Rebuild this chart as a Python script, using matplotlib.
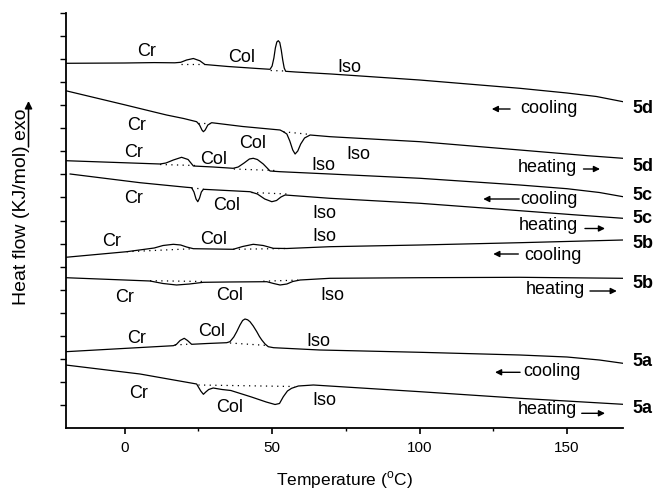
import numpy as np
import matplotlib
matplotlib.use('Agg')
import matplotlib.pyplot as plt

plt.rcParams['font.family'] = ['Liberation Sans', 'DejaVu Sans']

# ---------------- data (temperature in degC, heat flow in arbitrary units) ----------------
t_5d_cool = [-20, 0, 10, 17, 19, 21, 23.3, 25.5, 27.2, 35, 45, 49.3, 50.0, 50.6, 51.1, 51.6, 52.1,
             52.6, 53.1, 53.6, 54.1, 54.6, 58, 64, 70, 100, 134, 150, 160, 169]
hf_5d_cool = [364.7, 365, 365.4, 365.2, 365.7, 368, 369.5, 367.2, 363.5, 361.5, 359.5, 358.7, 362,
              370, 380, 386, 387.3, 385.5, 378, 368, 360, 356.7, 356, 355, 354, 348, 339.7, 335,
              331.5, 326.3]

t_5d_heat = [-20, 0, 10, 14.2, 20, 24.4, 25.4, 26.2, 26.7, 27.3, 28.2, 29.5, 40, 52.7, 53.8, 55.0,
             56.0, 57.0, 57.8, 58.7, 59.7, 61.0, 62.9, 69.7, 100.2, 134, 157, 169]
hf_5d_heat = [337.3, 323.2, 316, 313, 309.5, 306.3, 303, 298, 296.3, 298, 303, 305.3, 301.5, 298,
              296.3, 294, 287, 278, 274, 277, 284, 290, 293, 291.3, 286.3, 278, 272.3, 269.7]

t_5c_cool = [-20, 12, 14, 16.5, 19.3, 21.5, 23.3, 30, 36.8, 38.5, 40.5, 42.3, 43.6, 45, 47, 49.3,
             52.7, 69.6, 100.2, 134, 150, 161, 169]
hf_5c_cool = [267.3, 264, 265, 268, 270.7, 268.5, 262, 261, 259.7, 261, 265, 269, 269.7, 268.5, 264,
              257, 256.3, 254, 249.7, 243, 239.3, 235.5, 231.3]

t_5c_heat = [-18.5, 5.2, 21, 22.7, 23.5, 24.2, 24.8, 25.4, 26, 26.7, 42.5, 45, 47.5, 49.9, 51.5, 53,
             54.4, 69.6, 100.2, 134, 152, 169]
hf_5c_heat = [254, 245.3, 240.7, 240.3, 236, 229, 226.3, 230, 236, 238.7, 236.3, 234, 229, 226.3,
              227.5, 231, 233, 229.7, 224.7, 217.3, 213.3, 209.7]

t_5b_cool = [-20, 0.7, 5, 10, 13, 16.5, 19, 21, 23.3, 30, 36.8, 40, 43.6, 47, 50.4, 55, 69.6, 100.2,
             134, 169]
hf_5b_cool = [170.7, 176.3, 178, 180, 182.5, 183.7, 183, 181, 179.3, 179, 178.7, 181.5, 183.7, 182.5,
              179.7, 179.5, 181.3, 183, 185.3, 188]

t_5b_heat = [-20, 8.6, 13, 17.6, 22, 26.7, 35, 48.2, 50.5, 52.7, 55, 57, 59.5, 69.6, 100.2, 134, 169]
hf_5b_heat = [150.3, 147, 144.5, 143, 144, 145.7, 146, 146.3, 144.5, 143, 144, 146.5, 148, 149.7,
              150.3, 150.7, 149.7]

t_5a_cool = [-20, 0, 16.5, 17.5, 18.8, 20.2, 21.3, 22.7, 28, 34.6, 35.7, 37, 38, 39.1, 40, 40.8, 41.7,
             42.5, 43.6, 44.8, 45.7, 46.5, 47.6, 48.7, 50.5, 66.2, 100.2, 134, 150, 161, 169]
hf_5a_cool = [76.3, 79.6, 82.3, 83.5, 87.5, 89.7, 87.5, 83.7, 84.5, 85.3, 86.3, 91, 96.3, 103, 107.5,
              109, 108.2, 106.3, 102, 96.3, 91.5, 88, 84, 81.3, 80.3, 78, 75.7, 73, 71, 68, 64.7]

t_5a_heat = [-20, 5.2, 16.5, 24.4, 25.0, 25.8, 26.7, 27.5, 28.5, 30, 33, 36, 43, 48, 51, 52.5, 53.8,
             55.2, 56.6, 58.9, 64, 76.4, 100.2, 134, 169]
hf_5a_heat = [63, 54, 48.1, 44, 41, 37, 33.7, 36, 38.5, 40, 38.5, 37.5, 31, 26, 23.5, 24.5, 31.3, 37,
              39.7, 42, 43, 40.7, 36.3, 29.7, 23.7]

# dotted baselines: (t_start, t_end, hf_start, hf_end)
baselines = [
    (19, 27, 364.5, 364.5), (49.5, 54.5, 357.5, 357),
    (24.8, 28.8, 305.5, 305.5), (53.8, 63, 296.3, 293.5),
    (12, 24, 263.5, 262.5), (37, 51, 259, 257.5),
    (22.7, 26.7, 240, 239), (43, 55, 235.5, 234),
    (0.7, 23.3, 176.3, 179.3), (36.8, 55, 178.7, 179.5),
    (8.6, 26.7, 147.3, 146.5), (47, 60, 146.8, 148),
    (17, 22.7, 83, 84), (35.7, 48.5, 85, 82.5),
    (25, 57.5, 43, 41.5),
]

phase_labels = [
    ('Cr', 7.5, 376), ('Col', 39.7, 370), ('Iso', 76.2, 361),
    ('Cr', 3.9, 302), ('Col', 43.4, 284), ('Iso', 79.2, 273.5),
    ('Cr', 2.9, 275.5), ('Col', 30.1, 269), ('Iso', 67.3, 262),
    ('Cr', 2.9, 229.5), ('Col', 34.6, 223), ('Iso', 67.6, 214.5),
    ('Cr', -4.4, 186), ('Col', 30.1, 188), ('Iso', 67.6, 191),
    ('Cr', 0.1, 131), ('Col', 35.7, 132), ('Iso', 70.3, 133),
    ('Cr', 4.1, 89.5), ('Col', 29.5, 96), ('Iso', 65.6, 86.5),
    ('Cr', 4.6, 34.5), ('Col', 35.5, 20.5), ('Iso', 67.8, 27.5),
]

# mode text (text, x, y), arrow (tail, head, y)
mode_labels = [
    ('cooling', 144.0, 319.7, 130.7, 124.5, 319),
    ('heating', 143.3, 260.7, 155.6, 161.2, 259),
    ('cooling', 144.0, 229, 133.8, 121.6, 229),
    ('heating', 143.7, 203, 156.1, 162.9, 199.5),
    ('cooling', 145.4, 173, 133.5, 125.0, 174),
    ('heating', 146.0, 138, 157.8, 166.9, 137),
    ('cooling', 144.8, 56.3, 134.1, 125.6, 55.7),
    ('heating', 143.2, 18, 155.0, 162.9, 14.7),
]

sample_names = ['5d', '5d', '5c', '5c', '5b', '5b', '5a', '5a']
sample_y = [319.7, 261.3, 233, 209.7, 184.7, 144.7, 66.3, 19.7]

curves = [(t_5d_cool, hf_5d_cool), (t_5d_heat, hf_5d_heat), (t_5c_cool, hf_5c_cool),
          (t_5c_heat, hf_5c_heat), (t_5b_cool, hf_5b_cool), (t_5b_heat, hf_5b_heat),
          (t_5a_cool, hf_5a_cool), (t_5a_heat, hf_5a_heat)]

# ---------------- figure ----------------
W, H = 653, 491
fig = plt.figure(figsize=(W / 100, H / 100), dpi=100)
ax = fig.add_axes([66 / W, 1 - 428 / H, (623 - 66) / W, (428 - 13) / H])
ax.set_xlim(-19.9, 169)
ax.set_ylim(0, 415)

for t, hf in curves:
    ax.plot(t, hf, color='black', lw=0.9, solid_joinstyle='round')

for t0, t1, h0, h1 in baselines:
    ax.plot([t0, t1], [h0, h1], color='black', lw=0.9, linestyle=(0, (1, 3.5)))

for s, x, y in phase_labels:
    ax.text(x, y, s, ha='center', va='center', fontsize=13)

for s, x, y, tail, head, ya in mode_labels:
    ax.text(x, y, s, ha='center', va='center', fontsize=13, clip_on=False)
    ax.annotate('', xy=(head, ya), xytext=(tail, ya),
                arrowprops=dict(arrowstyle='-|>', color='black', lw=1.0,
                                mutation_scale=9, shrinkA=0, shrinkB=0),
                annotation_clip=False)

for s, y in zip(sample_names, sample_y):
    ax.text(172.1, y, s, ha='left', va='center', fontsize=13, fontweight='bold',
            clip_on=False)

# axes styling
for sp in ['top', 'right']:
    ax.spines[sp].set_visible(False)
for sp in ['left', 'bottom']:
    ax.spines[sp].set_linewidth(1.3)

ax.set_xticks([0, 50, 100, 150])
ax.set_xticks([25, 75, 125], minor=True)
ax.set_yticks(np.arange(1, 19) * 415 / 18)
ax.set_yticklabels([])
ax.tick_params(axis='x', which='major', length=4.5, width=1.2, labelsize=11, pad=5)
ax.tick_params(axis='x', which='minor', length=2.3, width=1.0)
ax.tick_params(axis='y', which='major', length=4.3, width=1.0)

ax.set_xlabel('Temperature ($^{\\mathregular{o}}$C)', fontsize=12.5, labelpad=10)

fig.text(21.7 / W, 1 - 207 / H, 'Heat flow (KJ/mol) exo', rotation=90,
         ha='center', va='center', fontsize=14)
ax.annotate('', xy=(28.5, H - 101), xytext=(28.5, H - 147), xycoords='figure pixels',
            textcoords='figure pixels',
            arrowprops=dict(arrowstyle='-|>', color='black', lw=1.1,
                            mutation_scale=11, shrinkA=0, shrinkB=0),
            annotation_clip=False)

fig.savefig('out.png', dpi=100)
